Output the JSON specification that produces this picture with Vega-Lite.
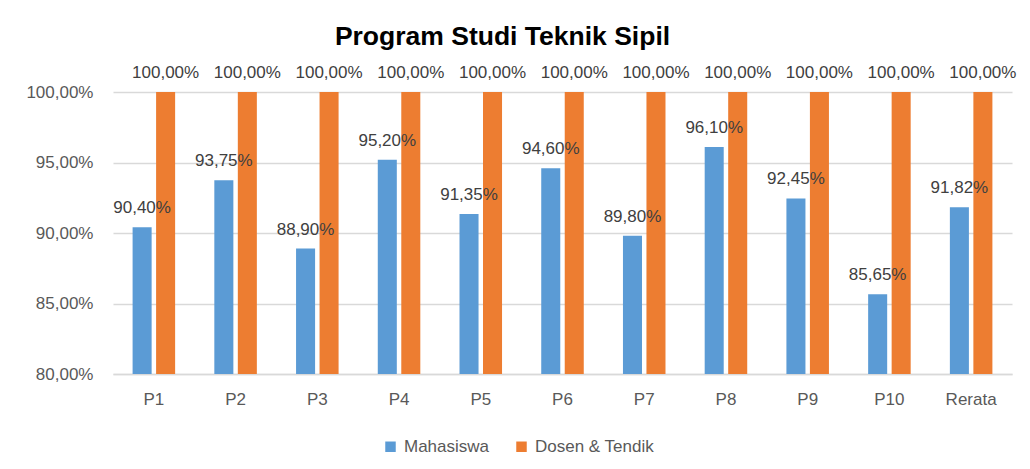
{
  "$schema": "https://vega.github.io/schema/vega-lite/v6.json",
  "width": 899,
  "height": 282,
  "autosize": {"type": "none"},
  "padding": {"left": 113, "top": 92, "right": 18, "bottom": 95},
  "background": "white",
  "title": {
    "text": "Program Studi Teknik Sipil",
    "font": "Liberation Sans",
    "fontSize": 26.5,
    "fontWeight": "bold",
    "color": "#000000",
    "anchor": "middle",
    "dx": -60,
    "dy": -10
  },
  "data": {
    "values": [
      {"prodi": "P1", "kelompok": "Mahasiswa", "nilai": 0.904},
      {"prodi": "P1", "kelompok": "Dosen & Tendik", "nilai": 1.0},
      {"prodi": "P2", "kelompok": "Mahasiswa", "nilai": 0.9375},
      {"prodi": "P2", "kelompok": "Dosen & Tendik", "nilai": 1.0},
      {"prodi": "P3", "kelompok": "Mahasiswa", "nilai": 0.889},
      {"prodi": "P3", "kelompok": "Dosen & Tendik", "nilai": 1.0},
      {"prodi": "P4", "kelompok": "Mahasiswa", "nilai": 0.952},
      {"prodi": "P4", "kelompok": "Dosen & Tendik", "nilai": 1.0},
      {"prodi": "P5", "kelompok": "Mahasiswa", "nilai": 0.9135},
      {"prodi": "P5", "kelompok": "Dosen & Tendik", "nilai": 1.0},
      {"prodi": "P6", "kelompok": "Mahasiswa", "nilai": 0.946},
      {"prodi": "P6", "kelompok": "Dosen & Tendik", "nilai": 1.0},
      {"prodi": "P7", "kelompok": "Mahasiswa", "nilai": 0.898},
      {"prodi": "P7", "kelompok": "Dosen & Tendik", "nilai": 1.0},
      {"prodi": "P8", "kelompok": "Mahasiswa", "nilai": 0.961},
      {"prodi": "P8", "kelompok": "Dosen & Tendik", "nilai": 1.0},
      {"prodi": "P9", "kelompok": "Mahasiswa", "nilai": 0.9245},
      {"prodi": "P9", "kelompok": "Dosen & Tendik", "nilai": 1.0},
      {"prodi": "P10", "kelompok": "Mahasiswa", "nilai": 0.8565},
      {"prodi": "P10", "kelompok": "Dosen & Tendik", "nilai": 1.0},
      {"prodi": "Rerata", "kelompok": "Mahasiswa", "nilai": 0.9182},
      {"prodi": "Rerata", "kelompok": "Dosen & Tendik", "nilai": 1.0}
    ]
  },
  "encoding": {
    "x": {
      "field": "prodi",
      "type": "nominal",
      "sort": null,
      "scale": {"paddingInner": 0.425, "paddingOuter": 0.2125},
      "axis": {
        "title": null,
        "labelAngle": 0,
        "labelFont": "Liberation Sans",
        "labelFontSize": 17,
        "labelColor": "#595959",
        "labelPadding": 17,
        "ticks": false,
        "domain": true,
        "domainColor": "#D9D9D9",
        "domainWidth": 1.5
      }
    },
    "xOffset": {
      "field": "kelompok",
      "type": "nominal",
      "sort": ["Mahasiswa", "Dosen & Tendik"],
      "scale": {"paddingInner": 0.19, "paddingOuter": 0.095}
    },
    "y": {
      "field": "nilai",
      "type": "quantitative",
      "scale": {"domain": [0.8, 1.0], "nice": false, "zero": false},
      "axis": {
        "title": null,
        "values": [0.8, 0.85, 0.9, 0.95, 1.0],
        "format": ".2%",
        "labelFont": "Liberation Sans",
        "labelFontSize": 17,
        "labelColor": "#595959",
        "labelPadding": 20,
        "ticks": false,
        "domain": false,
        "grid": true,
        "gridColor": "#D9D9D9",
        "gridWidth": 1.5
      }
    }
  },
  "layer": [
    {
      "mark": {"type": "bar"},
      "encoding": {
        "y2": {"datum": 0.8},
        "color": {
          "field": "kelompok",
          "type": "nominal",
          "scale": {"domain": ["Mahasiswa", "Dosen & Tendik"], "range": ["#5B9BD5", "#ED7D31"]},
          "legend": {
            "title": null,
            "orient": "none",
            "direction": "horizontal",
            "legendX": 269,
            "legendY": 346,
            "symbolType": "square",
            "symbolSize": 110,
            "symbolStrokeWidth": 0,
            "symbolOpacity": 1,
            "labelFont": "Liberation Sans",
            "labelFontSize": 17,
            "labelColor": "#595959",
            "labelOffset": 5,
            "columnPadding": 23
          }
        }
      }
    },
    {
      "mark": {
        "type": "text",
        "baseline": "alphabetic",
        "dy": -14,
        "font": "Liberation Sans",
        "fontSize": 17,
        "color": "#404040"
      },
      "encoding": {
        "text": {"field": "nilai", "type": "quantitative", "format": ".2%"}
      }
    }
  ],
  "config": {
    "view": {"stroke": null},
    "locale": {
      "number": {"decimal": ",", "thousands": ".", "grouping": [3], "currency": ["Rp", ""]}
    }
  }
}
